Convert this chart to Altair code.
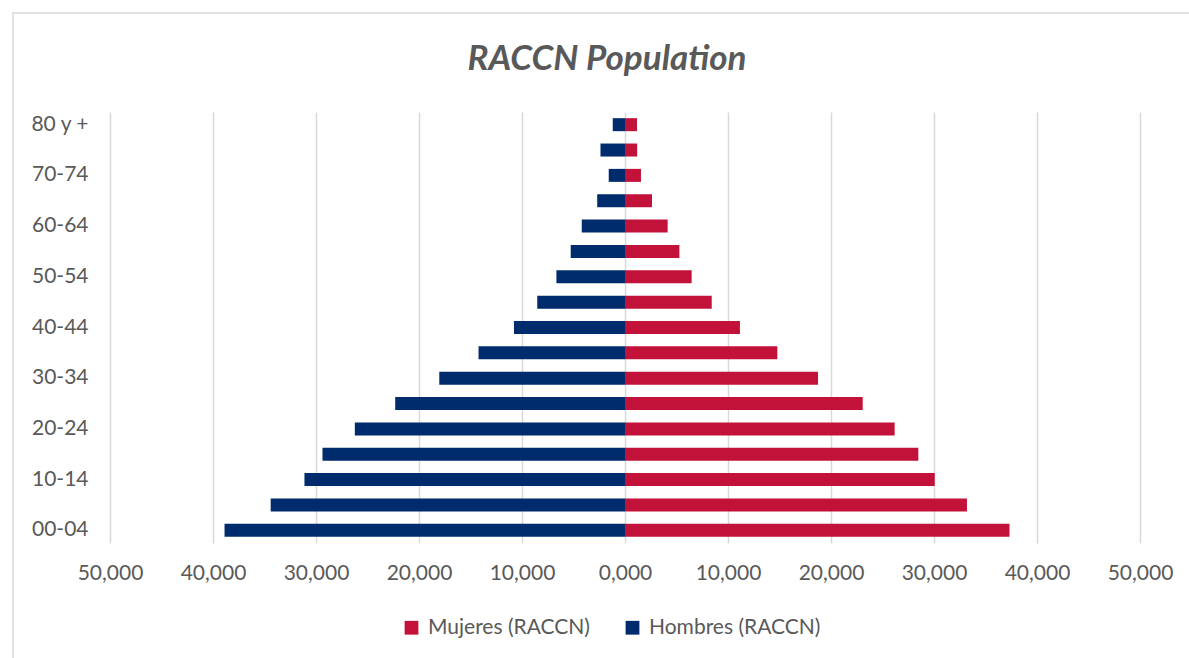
import altair as alt
import pandas as pd

# Age groups, youngest first
age_groups = ["00-04", "05-09", "10-14", "15-19", "20-24", "25-29", "30-34",
              "35-39", "40-44", "45-49", "50-54", "55-59", "60-64", "65-69",
              "70-74", "75-79", "80 y +"]

# Population per age group
mujeres = [37330, 33200, 30070, 28480, 26180, 23080, 18740, 14790, 11160,
           8420, 6470, 5280, 4140, 2620, 1550, 1180, 1165]
hombres = [38880, 34400, 31120, 29370, 26230, 22310, 18030, 14220, 10780,
           8520, 6660, 5270, 4200, 2700, 1580, 2380, 1190]

series = ["Mujeres (RACCN)", "Hombres (RACCN)"]
colors = ["#C3123A", "#002B6D"]
x_ticks = [-50000, -40000, -30000, -20000, -10000, 0,
           10000, 20000, 30000, 40000, 50000]
shown_labels = age_groups[::2]

rows = []
for age, m, h in zip(age_groups, mujeres, hombres):
    rows.append({"age": age, "sex": series[0], "pop": m})
    rows.append({"age": age, "sex": series[1], "pop": -h})
df = pd.DataFrame(rows)

FONT = "Lato"
GRAY = "#595959"
FS = 21

W, H = 1030, 431

bars = alt.Chart(df).mark_bar(size=13).encode(
    x=alt.X("pop:Q",
            scale=alt.Scale(domain=[-50000, 50000], nice=False, zero=False),
            axis=alt.Axis(values=x_ticks, title=None, grid=True,
                          gridColor="#D9D9D9", gridWidth=1.5,
                          domain=False, ticks=False, labelFlush=False,
                          labelOverlap=False,
                          labelExpr="format(abs(datum.value) / 1000, 'd') + ',000'",
                          labelFont=FONT, labelFontSize=FS, labelColor=GRAY,
                          labelPadding=19)),
    y=alt.Y("age:N", sort=list(reversed(age_groups)),
            scale=alt.Scale(paddingInner=0.5, paddingOuter=0.25),
            axis=alt.Axis(values=shown_labels, title=None, grid=False,
                          domain=False, ticks=False,
                          labelFont=FONT, labelFontSize=FS, labelColor=GRAY,
                          labelPadding=22)),
    color=alt.Color("sex:N",
                    scale=alt.Scale(domain=series, range=colors),
                    legend=alt.Legend(title=None, orient="none",
                                      direction="horizontal",
                                      legendX=291, legendY=505,
                                      symbolType="square", symbolSize=190,
                                      symbolStrokeWidth=0,
                                      labelFont=FONT, labelFontSize=FS,
                                      labelColor=GRAY, labelOffset=6,
                                      labelLimit=0, columnPadding=32)),
)

# Thin frame around the whole chart
frame = alt.Chart(pd.DataFrame({"f": [0]})).mark_rect(
    fill=None, stroke="#D9D9D9", strokeWidth=1.5
).encode(
    x=alt.value(-97), x2=alt.value(W + 120),
    y=alt.value(-99), y2=alt.value(H + 140),
)

chart = alt.layer(frame, bars).properties(
    width=W, height=H,
    padding={"left": 110, "top": 112, "right": 49, "bottom": 115},
    autosize=alt.AutoSizeParams(type="none"),
    title=alt.TitleParams("RACCN Population", font=FONT, fontSize=35,
                          fontWeight="bold", fontStyle="italic",
                          color=GRAY, anchor="middle", dx=-18, offset=-65),
).configure_view(stroke=None)

chart.save("out.html", embed_options={"renderer": "svg", "actions": False})
